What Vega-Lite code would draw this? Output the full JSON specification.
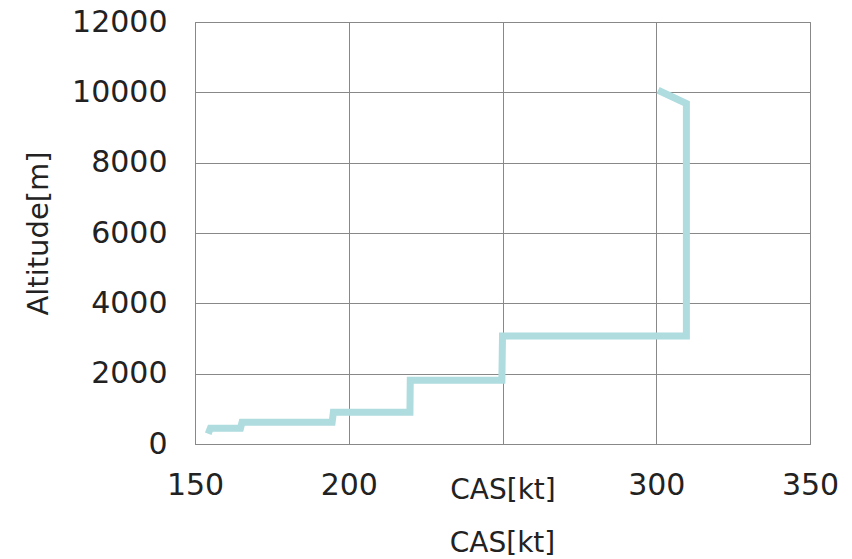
{
  "$schema": "https://vega.github.io/schema/vega-lite/v6.json",
  "width": 615,
  "height": 422,
  "autosize": "none",
  "padding": {"left": 195, "top": 22, "right": 42, "bottom": 115},
  "background": "white",
  "title": {"text": "CAS[kt]", "orient": "bottom", "frame": "group", "anchor": "middle", "offset": 26, "fontSize": 28, "font": "DejaVu Sans", "fontWeight": "normal", "color": "#222", "baseline": "top"},
  "data": {"values": [
    {"i": 1, "cas": 154.3, "alt": 290},
    {"i": 2, "cas": 155.0, "alt": 450},
    {"i": 3, "cas": 164.8, "alt": 450},
    {"i": 4, "cas": 165.3, "alt": 620},
    {"i": 5, "cas": 194.6, "alt": 620},
    {"i": 6, "cas": 195.0, "alt": 900},
    {"i": 7, "cas": 219.9, "alt": 900},
    {"i": 8, "cas": 220.0, "alt": 1810},
    {"i": 9, "cas": 249.8, "alt": 1810},
    {"i": 10, "cas": 250.0, "alt": 3070},
    {"i": 11, "cas": 309.8, "alt": 3070},
    {"i": 12, "cas": 309.8, "alt": 9680},
    {"i": 13, "cas": 300.6, "alt": 10060}
  ]},
  "mark": {"type": "line", "color": "#aedcdf", "strokeWidth": 7, "strokeJoin": "miter", "strokeCap": "butt"},
  "encoding": {
    "order": {"field": "i", "type": "quantitative"},
    "x": {"field": "cas", "type": "quantitative", "scale": {"domain": [150, 350], "nice": false, "zero": false},
      "axis": {"values": [150, 200, 250, 300, 350], "labelExpr": "datum.value == 250 ? '' : datum.label", "title": "CAS[kt]", "grid": true, "ticks": false, "labelPadding": 26, "labelFontSize": 30, "labelFont": "DejaVu Sans", "labelColor": "#222", "titleFontSize": 28, "titleFont": "DejaVu Sans", "titleFontWeight": "normal", "titleColor": "#222", "titleBaseline": "middle", "titleY": 46, "domainColor": "#888", "gridColor": "#888", "gridOpacity": 1, "labelFlush": false}},
    "y": {"field": "alt", "type": "quantitative", "scale": {"domain": [0, 12000], "nice": false},
      "axis": {"values": [0, 2000, 4000, 6000, 8000, 10000, 12000], "format": "d", "title": "Altitude[m]", "grid": true, "ticks": false, "labelPadding": 28, "labelFontSize": 30, "labelFont": "DejaVu Sans", "labelColor": "#222", "titleFontSize": 29, "titleFont": "DejaVu Sans", "titleFontWeight": "normal", "titleColor": "#222", "titleAngle": -90, "titleAlign": "center", "titleBaseline": "middle", "titleX": -157, "titleY": 211, "domainColor": "#888", "gridColor": "#888", "gridOpacity": 1, "labelFlush": false}}
  },
  "config": {"view": {"stroke": "#888", "strokeWidth": 1}}
}
